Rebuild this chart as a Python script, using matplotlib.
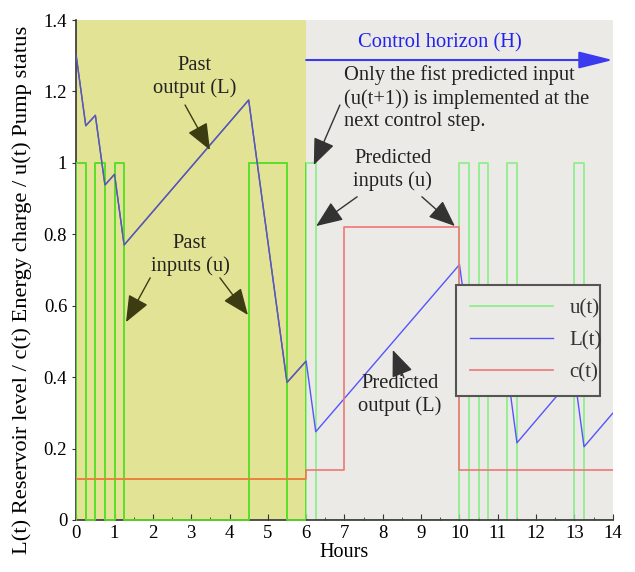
import matplotlib
matplotlib.use("Agg")
import matplotlib.pyplot as plt
from matplotlib.patches import Rectangle
from matplotlib.ticker import MultipleLocator

# pump switched on / off (hours)
pump_on = [0, 0.5, 1.0, 4.5, 6.0, 10.0, 10.5, 11.25, 13.0]
pump_off = [0.25, 0.75, 1.25, 5.5, 6.25, 10.25, 10.75, 11.5, 13.25]

# reservoir level
level_t = [0, 0.25, 0.5, 0.75, 1.0, 1.25, 4.5, 5.5, 6.0, 6.25, 10.0,
           10.25, 10.5, 10.75, 11.25, 11.5, 13.0, 13.25, 14]
level = [1.30, 1.104, 1.133, 0.938, 0.968, 0.770, 1.176, 0.385, 0.445, 0.247,
         0.715, 0.52, 0.55, 0.355, 0.418, 0.216, 0.405, 0.205, 0.299]

# energy charge
price_t = [0, 6, 7, 10, 14]
price = [0.115, 0.14, 0.82, 0.14, 0.14]

now = 6
t_end = 14

# build pump status step line
u_t = []
u = []
for a, b in zip(pump_on, pump_off):
    u_t += [a, a, b, b]
    u += [0, 1, 1, 0]
u_t.append(t_end)
u.append(0)

plt.rcParams['font.family'] = ['Liberation Serif', 'DejaVu Serif']

fig = plt.figure(figsize=(6.35, 5.72), dpi=100)
ax = fig.add_axes([0.12, 0.091, 0.845, 0.874])
ax.set_facecolor('#ebeae6')
ax.axvspan(0, now, color='#e3e396', zorder=0, lw=0)

lu, = ax.plot(u_t, u, color='#88ee88', lw=1.2, label='u(t)', zorder=2)
ll, = ax.plot(level_t, level, color='#5555ff', lw=1.0, label='L(t)', zorder=2)
lc, = ax.step(price_t, price, where='post', color='#ee7777', lw=1.2,
              label='c(t)', zorder=2)

# darker versions of the curves inside the past (yellow) window
past = Rectangle((0, -1), now, 5, transform=ax.transData)
for x, y, col, w, st in [(u_t, u, '#55dd22', 1.3, 'default'),
                         (level_t, level, '#5a5aa8', 1.0, 'default'),
                         (price_t, price, '#e8843a', 1.3, 'steps-post')]:
    ln, = ax.plot(x, y, color=col, lw=w, drawstyle=st, zorder=3)
    ln.set_clip_path(past)

ax.set_xlim(0, t_end)
ax.set_ylim(0, 1.4)
ax.xaxis.set_major_locator(MultipleLocator(1))
ax.xaxis.set_minor_locator(MultipleLocator(0.5))
ax.set_yticks([0, 0.2, 0.4, 0.6, 0.8, 1, 1.2, 1.4])
ax.set_yticklabels(['0', '0.2', '0.4', '0.6', '0.8', '1', '1.2', '1.4'])
ax.tick_params(axis='x', which='both', direction='in', labelsize=13.5,
               length=4, color='#333333')
ax.tick_params(axis='x', which='minor', length=2.5)
ax.tick_params(axis='y', direction='out', labelsize=13.5, length=3,
               color='#333333')
for s in ['top', 'right']:
    ax.spines[s].set_visible(False)
for s in ['left', 'bottom']:
    ax.spines[s].set_color('#333333')
    ax.spines[s].set_linewidth(1.2)

ax.set_xlabel('Hours', fontsize=14.5, labelpad=1)
ax.set_ylabel('L(t) Reservoir level / c(t) Energy charge / u(t) Pump status',
              fontsize=16.2)
ax.yaxis.set_label_coords(-0.082, 0.46)

leg = ax.legend(handles=[lu, ll, lc], loc='lower left',
                bbox_to_anchor=(0.708, 0.248, 0.268, 0.206), mode='expand',
                borderaxespad=0, fontsize=15, fancybox=False, framealpha=1,
                facecolor='#ebeae6', edgecolor='#555555',
                handlelength=4.0, labelspacing=0.6, borderpad=0.65,
                handletextpad=0.8)
leg.get_frame().set_linewidth(1.5)
leg.set_zorder(7)
for txt in leg.get_texts():
    txt.set_color('#333333')

# control horizon arrow
ax.annotate('', xy=(t_end, 1.288), xytext=(now, 1.288),
            arrowprops=dict(arrowstyle='-|>,head_length=1.4,head_width=0.35',
                            color='#3a3aee', lw=1.5, mutation_scale=15,
                            shrinkA=0, shrinkB=0),
            annotation_clip=False, zorder=6)
ax.text(9.49, 1.336, 'Control horizon (H)', color='#2222ee', fontsize=14.8,
        ha='center', va='center', zorder=6)

past_arrow = dict(arrowstyle='-|>,head_length=1.1,head_width=0.45',
                  color='#3c3c12', lw=1.0, mutation_scale=15,
                  shrinkA=0, shrinkB=0)
fut_arrow = dict(arrowstyle='-|>,head_length=1.1,head_width=0.45',
                 color='#333333', lw=1.0, mutation_scale=15,
                 shrinkA=0, shrinkB=0)
tkw = dict(fontsize=14.8, ha='center', va='center', linespacing=1.25,
           color='#222222', zorder=6)

ax.text(3.10, 1.24, 'Past\noutput (L)', **tkw)
ax.annotate('', xy=(3.49, 1.036), xytext=(2.84, 1.162),
            arrowprops=past_arrow, zorder=6)

ax.text(2.97, 0.742, 'Past\ninputs (u)', **tkw)
ax.annotate('', xy=(1.30, 0.554), xytext=(1.93, 0.678),
            arrowprops=past_arrow, zorder=6)
ax.annotate('', xy=(4.48, 0.574), xytext=(3.75, 0.678),
            arrowprops=past_arrow, zorder=6)

ax.text(6.98, 1.274, 'Only the fist predicted input\n(u(t+1)) is implemented at the\nnext control step.',
        fontsize=14.8, ha='left', va='top', linespacing=1.27, color='#222222',
        zorder=6)
ax.annotate('', xy=(6.20, 0.994), xytext=(6.88, 1.162),
            arrowprops=fut_arrow, zorder=6)

ax.text(8.26, 0.98, 'Predicted\ninputs (u)', **tkw)
ax.annotate('', xy=(6.26, 0.823), xytext=(7.33, 0.905),
            arrowprops=fut_arrow, zorder=6)
ax.annotate('', xy=(9.88, 0.823), xytext=(9.02, 0.905),
            arrowprops=fut_arrow, zorder=6)

ax.text(8.45, 0.35, 'Predicted\noutput (L)', **tkw)
ax.annotate('', xy=(8.26, 0.476), xytext=(8.55, 0.398),
            arrowprops=fut_arrow, zorder=6)

fig.savefig('out.png', dpi=100)
